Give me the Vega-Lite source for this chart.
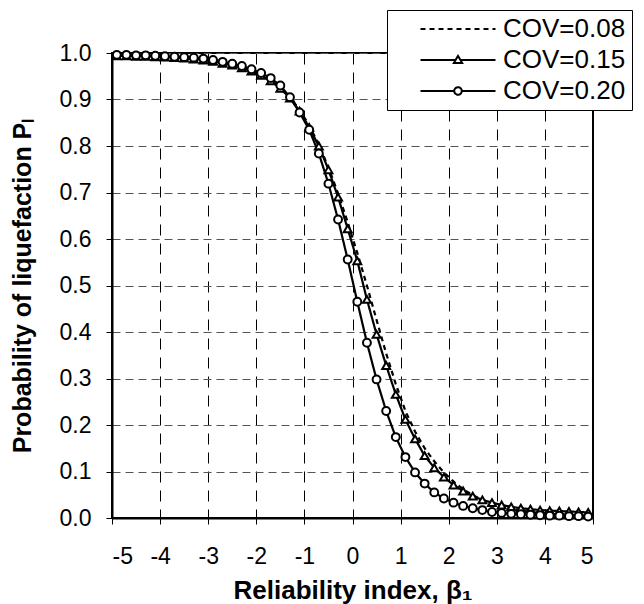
{
  "$schema": "https://vega.github.io/schema/vega-lite/v6.json",
  "width": 481,
  "height": 465,
  "autosize": "none",
  "padding": {"left": 112, "top": 53, "right": 51, "bottom": 86},
  "background": "white",
  "config": {
    "font": "Liberation Sans",
    "view": {"stroke": "black", "strokeWidth": 2}
  },
  "data": {"values": [
    {"b": -4.9, "p": 0.997, "c": "COV=0.08"}, {"b": -4.7, "p": 0.996, "c": "COV=0.08"}, {"b": -4.5, "p": 0.996, "c": "COV=0.08"}, {"b": -4.3, "p": 0.995, "c": "COV=0.08"}, {"b": -4.1, "p": 0.994, "c": "COV=0.08"},
    {"b": -3.9, "p": 0.993, "c": "COV=0.08"}, {"b": -3.7, "p": 0.992, "c": "COV=0.08"}, {"b": -3.5, "p": 0.990, "c": "COV=0.08"}, {"b": -3.3, "p": 0.988, "c": "COV=0.08"}, {"b": -3.1, "p": 0.986, "c": "COV=0.08"},
    {"b": -2.9, "p": 0.983, "c": "COV=0.08"}, {"b": -2.7, "p": 0.979, "c": "COV=0.08"}, {"b": -2.5, "p": 0.975, "c": "COV=0.08"}, {"b": -2.3, "p": 0.969, "c": "COV=0.08"}, {"b": -2.1, "p": 0.962, "c": "COV=0.08"},
    {"b": -1.9, "p": 0.953, "c": "COV=0.08"}, {"b": -1.7, "p": 0.941, "c": "COV=0.08"}, {"b": -1.5, "p": 0.925, "c": "COV=0.08"}, {"b": -1.3, "p": 0.905, "c": "COV=0.08"}, {"b": -1.1, "p": 0.878, "c": "COV=0.08"},
    {"b": -0.9, "p": 0.844, "c": "COV=0.08"}, {"b": -0.7, "p": 0.803, "c": "COV=0.08"}, {"b": -0.5, "p": 0.754, "c": "COV=0.08"}, {"b": -0.3, "p": 0.698, "c": "COV=0.08"}, {"b": -0.1, "p": 0.636, "c": "COV=0.08"},
    {"b": 0.1, "p": 0.570, "c": "COV=0.08"}, {"b": 0.3, "p": 0.500, "c": "COV=0.08"}, {"b": 0.5, "p": 0.426, "c": "COV=0.08"}, {"b": 0.7, "p": 0.354, "c": "COV=0.08"}, {"b": 0.9, "p": 0.288, "c": "COV=0.08"},
    {"b": 1.1, "p": 0.230, "c": "COV=0.08"}, {"b": 1.3, "p": 0.186, "c": "COV=0.08"}, {"b": 1.5, "p": 0.150, "c": "COV=0.08"}, {"b": 1.7, "p": 0.122, "c": "COV=0.08"}, {"b": 1.9, "p": 0.098, "c": "COV=0.08"},
    {"b": 2.1, "p": 0.078, "c": "COV=0.08"}, {"b": 2.3, "p": 0.062, "c": "COV=0.08"}, {"b": 2.5, "p": 0.049, "c": "COV=0.08"}, {"b": 2.7, "p": 0.039, "c": "COV=0.08"}, {"b": 2.9, "p": 0.031, "c": "COV=0.08"},
    {"b": 3.1, "p": 0.025, "c": "COV=0.08"}, {"b": 3.3, "p": 0.020, "c": "COV=0.08"}, {"b": 3.5, "p": 0.016, "c": "COV=0.08"}, {"b": 3.7, "p": 0.013, "c": "COV=0.08"}, {"b": 3.9, "p": 0.011, "c": "COV=0.08"},
    {"b": 4.1, "p": 0.009, "c": "COV=0.08"}, {"b": 4.3, "p": 0.008, "c": "COV=0.08"}, {"b": 4.5, "p": 0.007, "c": "COV=0.08"}, {"b": 4.7, "p": 0.006, "c": "COV=0.08"}, {"b": 4.9, "p": 0.005, "c": "COV=0.08"},

    {"b": -4.9, "p": 0.994, "c": "COV=0.15"}, {"b": -4.7, "p": 0.994, "c": "COV=0.15"}, {"b": -4.5, "p": 0.993, "c": "COV=0.15"}, {"b": -4.3, "p": 0.993, "c": "COV=0.15"}, {"b": -4.1, "p": 0.992, "c": "COV=0.15"},
    {"b": -3.9, "p": 0.991, "c": "COV=0.15"}, {"b": -3.7, "p": 0.990, "c": "COV=0.15"}, {"b": -3.5, "p": 0.989, "c": "COV=0.15"}, {"b": -3.3, "p": 0.987, "c": "COV=0.15"}, {"b": -3.1, "p": 0.985, "c": "COV=0.15"},
    {"b": -2.9, "p": 0.982, "c": "COV=0.15"}, {"b": -2.7, "p": 0.978, "c": "COV=0.15"}, {"b": -2.5, "p": 0.974, "c": "COV=0.15"}, {"b": -2.3, "p": 0.968, "c": "COV=0.15"}, {"b": -2.1, "p": 0.961, "c": "COV=0.15"},
    {"b": -1.9, "p": 0.952, "c": "COV=0.15"}, {"b": -1.7, "p": 0.940, "c": "COV=0.15"}, {"b": -1.5, "p": 0.924, "c": "COV=0.15"}, {"b": -1.3, "p": 0.903, "c": "COV=0.15"}, {"b": -1.1, "p": 0.875, "c": "COV=0.15"},
    {"b": -0.9, "p": 0.840, "c": "COV=0.15"}, {"b": -0.7, "p": 0.800, "c": "COV=0.15"}, {"b": -0.5, "p": 0.749, "c": "COV=0.15"}, {"b": -0.3, "p": 0.690, "c": "COV=0.15"}, {"b": -0.1, "p": 0.622, "c": "COV=0.15"},
    {"b": 0.1, "p": 0.553, "c": "COV=0.15"}, {"b": 0.3, "p": 0.470, "c": "COV=0.15"}, {"b": 0.5, "p": 0.395, "c": "COV=0.15"}, {"b": 0.7, "p": 0.328, "c": "COV=0.15"}, {"b": 0.9, "p": 0.266, "c": "COV=0.15"},
    {"b": 1.1, "p": 0.212, "c": "COV=0.15"}, {"b": 1.3, "p": 0.170, "c": "COV=0.15"}, {"b": 1.5, "p": 0.134, "c": "COV=0.15"}, {"b": 1.7, "p": 0.108, "c": "COV=0.15"}, {"b": 1.9, "p": 0.088, "c": "COV=0.15"},
    {"b": 2.1, "p": 0.071, "c": "COV=0.15"}, {"b": 2.3, "p": 0.058, "c": "COV=0.15"}, {"b": 2.5, "p": 0.047, "c": "COV=0.15"}, {"b": 2.7, "p": 0.039, "c": "COV=0.15"}, {"b": 2.9, "p": 0.033, "c": "COV=0.15"},
    {"b": 3.1, "p": 0.028, "c": "COV=0.15"}, {"b": 3.3, "p": 0.024, "c": "COV=0.15"}, {"b": 3.5, "p": 0.021, "c": "COV=0.15"}, {"b": 3.7, "p": 0.019, "c": "COV=0.15"}, {"b": 3.9, "p": 0.017, "c": "COV=0.15"},
    {"b": 4.1, "p": 0.016, "c": "COV=0.15"}, {"b": 4.3, "p": 0.015, "c": "COV=0.15"}, {"b": 4.5, "p": 0.014, "c": "COV=0.15"}, {"b": 4.7, "p": 0.013, "c": "COV=0.15"}, {"b": 4.9, "p": 0.012, "c": "COV=0.15"},

    {"b": -4.9, "p": 0.996, "c": "COV=0.20"}, {"b": -4.7, "p": 0.996, "c": "COV=0.20"}, {"b": -4.5, "p": 0.995, "c": "COV=0.20"}, {"b": -4.3, "p": 0.995, "c": "COV=0.20"}, {"b": -4.1, "p": 0.994, "c": "COV=0.20"},
    {"b": -3.9, "p": 0.993, "c": "COV=0.20"}, {"b": -3.7, "p": 0.992, "c": "COV=0.20"}, {"b": -3.5, "p": 0.991, "c": "COV=0.20"}, {"b": -3.3, "p": 0.990, "c": "COV=0.20"}, {"b": -3.1, "p": 0.988, "c": "COV=0.20"},
    {"b": -2.9, "p": 0.985, "c": "COV=0.20"}, {"b": -2.7, "p": 0.981, "c": "COV=0.20"}, {"b": -2.5, "p": 0.977, "c": "COV=0.20"}, {"b": -2.3, "p": 0.972, "c": "COV=0.20"}, {"b": -2.1, "p": 0.965, "c": "COV=0.20"},
    {"b": -1.9, "p": 0.957, "c": "COV=0.20"}, {"b": -1.7, "p": 0.946, "c": "COV=0.20"}, {"b": -1.5, "p": 0.930, "c": "COV=0.20"}, {"b": -1.3, "p": 0.905, "c": "COV=0.20"}, {"b": -1.1, "p": 0.872, "c": "COV=0.20"},
    {"b": -0.9, "p": 0.835, "c": "COV=0.20"}, {"b": -0.7, "p": 0.784, "c": "COV=0.20"}, {"b": -0.5, "p": 0.719, "c": "COV=0.20"}, {"b": -0.3, "p": 0.642, "c": "COV=0.20"}, {"b": -0.1, "p": 0.556, "c": "COV=0.20"},
    {"b": 0.1, "p": 0.465, "c": "COV=0.20"}, {"b": 0.3, "p": 0.377, "c": "COV=0.20"}, {"b": 0.5, "p": 0.298, "c": "COV=0.20"}, {"b": 0.7, "p": 0.230, "c": "COV=0.20"}, {"b": 0.9, "p": 0.174, "c": "COV=0.20"},
    {"b": 1.1, "p": 0.131, "c": "COV=0.20"}, {"b": 1.3, "p": 0.098, "c": "COV=0.20"}, {"b": 1.5, "p": 0.074, "c": "COV=0.20"}, {"b": 1.7, "p": 0.055, "c": "COV=0.20"}, {"b": 1.9, "p": 0.042, "c": "COV=0.20"},
    {"b": 2.1, "p": 0.033, "c": "COV=0.20"}, {"b": 2.3, "p": 0.026, "c": "COV=0.20"}, {"b": 2.5, "p": 0.021, "c": "COV=0.20"}, {"b": 2.7, "p": 0.017, "c": "COV=0.20"}, {"b": 2.9, "p": 0.013, "c": "COV=0.20"},
    {"b": 3.1, "p": 0.011, "c": "COV=0.20"}, {"b": 3.3, "p": 0.009, "c": "COV=0.20"}, {"b": 3.5, "p": 0.008, "c": "COV=0.20"}, {"b": 3.7, "p": 0.007, "c": "COV=0.20"}, {"b": 3.9, "p": 0.006, "c": "COV=0.20"},
    {"b": 4.1, "p": 0.005, "c": "COV=0.20"}, {"b": 4.3, "p": 0.005, "c": "COV=0.20"}, {"b": 4.5, "p": 0.004, "c": "COV=0.20"}, {"b": 4.7, "p": 0.004, "c": "COV=0.20"}, {"b": 4.9, "p": 0.003, "c": "COV=0.20"}
  ]},
  "layer": [
    {
      "mark": {"type": "line", "strokeWidth": 2.2, "color": "black"},
      "encoding": {
        "x": {
          "field": "b", "type": "quantitative",
          "scale": {"domain": [-5, 5], "nice": false, "zero": false},
          "axis": {
            "values": [-5, -4, -3, -2, -1, 0, 1, 2, 3, 4, 5],
            "labelExpr": "'' + datum.value",
            "labelFontSize": 23, "labelColor": "black", "labelPadding": 21,
            "tickSize": 6, "tickColor": "black", "tickWidth": 1,
            "domainColor": "black", "domainWidth": 2,
            "grid": true, "gridColor": "black", "gridDash": [11, 8], "gridWidth": 1,
            "title": "Reliability index, β₁",
            "titleFontSize": 26, "titleFontWeight": "bold", "titleColor": "black", "titlePadding": 9
          }
        },
        "y": {
          "field": "p", "type": "quantitative",
          "scale": {"domain": [0, 1], "nice": false},
          "axis": {
            "values": [0, 0.1, 0.2, 0.3, 0.4, 0.5, 0.6, 0.7, 0.8, 0.9, 1.0],
            "format": ".1f",
            "labelFontSize": 23, "labelColor": "black", "labelPadding": 15,
            "tickSize": 6, "tickColor": "black", "tickWidth": 1,
            "domainColor": "black", "domainWidth": 2,
            "grid": true, "gridColor": "#555555", "gridDash": [8, 5], "gridWidth": 1,
            "title": "Probability of liquefaction Pₗ",
            "titleFontSize": 25, "titleFontWeight": "bold", "titleColor": "black", "titlePadding": 24
          }
        },
        "strokeDash": {
          "field": "c", "type": "nominal",
          "scale": {"domain": ["COV=0.08", "COV=0.15", "COV=0.20"], "range": [[5, 4], [1, 0], [1, 0]]},
          "legend": {
            "title": null,
            "orient": "none",
            "legendX": 275,
            "legendY": -43,
            "padding": 6,
            "symbolSize": 225,
            "symbolOffset": 52,
            "labelOffset": 32,
            "labelFont": "Liberation Sans",
            "labelFontSize": 26,
            "labelColor": "black",
            "rowPadding": 5,
            "fillColor": "white",
            "strokeColor": "black",
            "symbolType": {"expr": "datum.value === 'COV=0.08' ? 'M-5,0H5' : datum.value === 'COV=0.15' ? 'M-5,0H-0.32M0.32,0H5M0,-0.55L0.55,0.4L-0.55,0.4Z' : 'M-5,0H-0.5M0.5,0H5M0.5,0A0.5,0.5,0,1,1,-0.5,0A0.5,0.5,0,1,1,0.5,0Z'"},
            "symbolFillColor": "white",
            "symbolStrokeColor": "black",
            "symbolStrokeWidth": 2,
            "symbolOpacity": 1
          }
        }
      }
    },
    {
      "transform": [{"filter": "datum.c !== 'COV=0.08'"}],
      "mark": {"type": "point", "filled": true, "fill": "white", "stroke": "black", "strokeWidth": 2, "size": 62, "opacity": 1},
      "encoding": {
        "x": {"field": "b", "type": "quantitative"},
        "y": {"field": "p", "type": "quantitative"},
        "shape": {
          "field": "c", "type": "nominal",
          "scale": {"domain": ["COV=0.15", "COV=0.20"], "range": ["triangle-up", "circle"]},
          "legend": null
        }
      }
    }
  ]
}
